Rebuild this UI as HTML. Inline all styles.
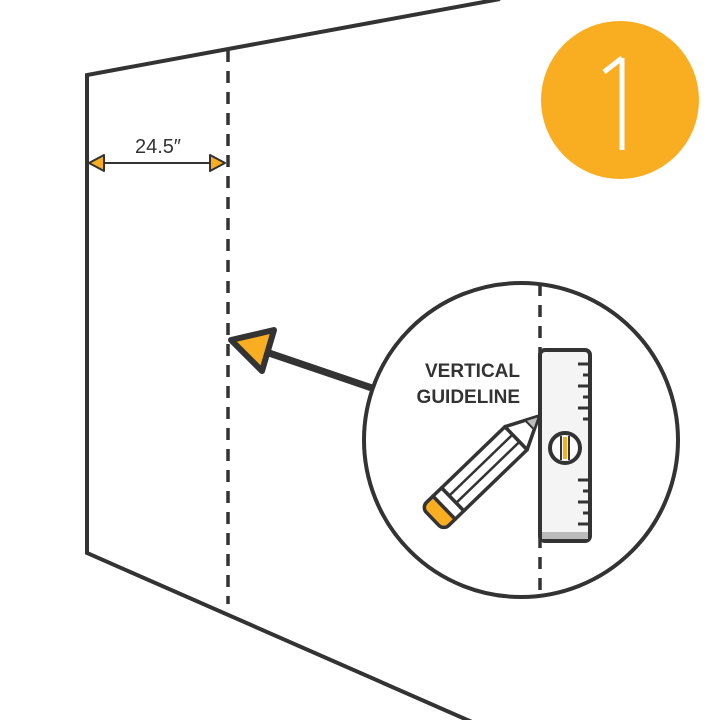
<!DOCTYPE html>
<html><head><style>body{margin:0;background:#fff}svg{display:block}</style></head><body>
<svg width="720" height="720" viewBox="0 0 720 720" xmlns="http://www.w3.org/2000/svg">
<g stroke="#333" stroke-width="4" fill="none" stroke-linecap="butt">
<polyline points="500,-1 87,75 87,553 472,722"/>
<line x1="228" y1="50" x2="228" y2="604" stroke-width="3.5" stroke-dasharray="12,9"/>
<line x1="95" y1="163" x2="220" y2="163" stroke-width="2"/>
</g>
<g fill="#F9AE21" stroke="#333" stroke-width="2" stroke-linejoin="round">
<polygon points="89,163 104,155 104,171"/>
<polygon points="225,163 210,155 210,171"/>
</g>
<text x="158" y="153" font-family="Liberation Sans, sans-serif" font-size="20" fill="#333" text-anchor="middle">24.5″</text>
<circle cx="620" cy="100" r="79" fill="#F9AE21"/>
<line x1="622" y1="58" x2="622" y2="150" stroke="#fff" stroke-width="5"/>
<polyline points="604,72 622,58" stroke="#fff" stroke-width="5" fill="none"/>
<line x1="266" y1="352" x2="372" y2="388" stroke="#333" stroke-width="7"/>
<polygon points="231,340 274,330 262,371" fill="#F9AE21" stroke="#333" stroke-width="6" stroke-linejoin="round"/>
<circle cx="521" cy="440" r="157" fill="#fff" stroke="#333" stroke-width="4"/>
<line x1="540" y1="284" x2="540" y2="598" stroke="#333" stroke-width="3.5" stroke-dasharray="12,9"/>
<rect x="540" y="350" width="50" height="191" rx="5" fill="#f4f4f4" stroke="#333" stroke-width="4"/>
<rect x="542" y="532" width="46" height="7" fill="#bbb"/>
<g stroke="#333" stroke-width="3">
<line x1="578" y1="364" x2="588" y2="364"/><line x1="583" y1="375" x2="588" y2="375"/>
<line x1="578" y1="386" x2="588" y2="386"/><line x1="583" y1="397" x2="588" y2="397"/>
<line x1="578" y1="408" x2="588" y2="408"/><line x1="583" y1="419" x2="588" y2="419"/>
<line x1="578" y1="480" x2="588" y2="480"/><line x1="583" y1="491" x2="588" y2="491"/>
<line x1="578" y1="502" x2="588" y2="502"/><line x1="583" y1="513" x2="588" y2="513"/>
<line x1="578" y1="524" x2="588" y2="524"/>
</g>
<circle cx="565" cy="448" r="15" fill="#fff" stroke="#333" stroke-width="4"/>
<line x1="565" y1="437" x2="565" y2="459" stroke="#F9AE21" stroke-width="4"/>
<line x1="561" y1="436" x2="561" y2="460" stroke="#333" stroke-width="2"/>
<line x1="569" y1="436" x2="569" y2="460" stroke="#333" stroke-width="2"/>
<g transform="translate(539,416) rotate(136)" stroke="#333" stroke-width="3.5" stroke-linejoin="round">
<polygon points="0,0 32,-16 32,16" fill="#fff"/>
<polygon points="0,0 13,-6.5 13,6.5" fill="#bbb" stroke-width="2"/>
<rect x="32" y="-16" width="88" height="32" fill="#fff"/>
<line x1="32" y1="-5" x2="120" y2="-5" stroke-width="2.5"/>
<line x1="32" y1="5" x2="120" y2="5" stroke-width="2.5"/>
<rect x="120" y="-16" width="12" height="32" fill="#fff"/>
<path d="M132,-16 H141 a7,7 0 0 1 7,7 V9 a7,7 0 0 1 -7,7 H132 Z" fill="#F9AE21"/>
</g>
<g font-family="Liberation Sans, sans-serif" font-size="19" font-weight="bold" fill="#333" text-anchor="end">
<text x="520" y="377">VERTICAL</text>
<text x="520" y="403">GUIDELINE</text>
</g>
</svg>
</body></html>
